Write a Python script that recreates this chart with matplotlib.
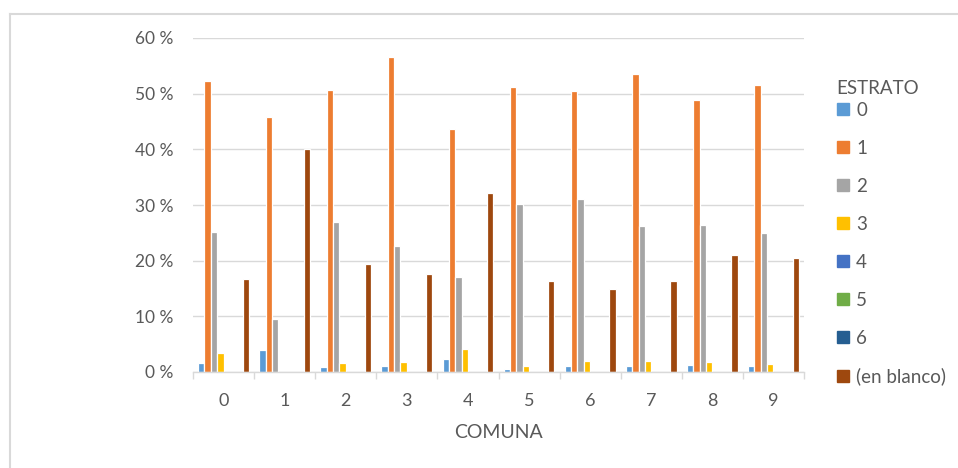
import numpy as np
import matplotlib
matplotlib.use("Agg")
import matplotlib.pyplot as plt
from matplotlib.lines import Line2D

comunas = ["0", "1", "2", "3", "4", "5", "6", "7", "8", "9"]
estratos = ["0", "1", "2", "3", "4", "5", "6", "(en blanco)"]

# porcentaje por comuna para cada estrato
e0 = [1.6, 3.9, 0.9, 1.0, 2.4, 0.6, 1.0, 1.0, 1.2, 1.0]
e1 = [52.3, 45.8, 50.7, 56.5, 43.7, 51.2, 50.5, 53.6, 48.9, 51.6]
e2 = [25.1, 9.6, 27.0, 22.7, 17.0, 30.2, 31.1, 26.2, 26.4, 24.9]
e3 = [3.5, 0.0, 1.6, 1.8, 4.1, 1.0, 2.0, 2.0, 1.8, 1.4]
e4 = [0, 0, 0, 0, 0, 0, 0, 0, 0, 0]
e5 = [0, 0, 0, 0, 0, 0, 0, 0, 0, 0]
e6 = [0, 0, 0, 0, 0, 0, 0, 0, 0, 0]
blanco = [16.7, 40.1, 19.4, 17.6, 32.1, 16.4, 14.9, 16.4, 21.0, 20.5]

series = [e0, e1, e2, e3, e4, e5, e6, blanco]
colors = ["#5B9BD5", "#ED7D31", "#A5A5A5", "#FFC000",
          "#4472C4", "#70AD47", "#255E91", "#9E480E"]

yticks = [0, 10, 20, 30, 40, 50, 60]
ytick_labels = ["0 %", "10 %", "20 %", "30 %", "40 %", "50 %", "60 %"]

TXT = "#595959"
GRID = "#D9D9D9"
plt.rcParams["font.family"] = ["Lato", "DejaVu Sans"]

fig = plt.figure(figsize=(9.58, 4.68), dpi=100)
ax = fig.add_axes([193 / 958, 1 - 372 / 468, (804 - 193) / 958, (372 - 38) / 468])

x = np.arange(len(comunas))
w = 0.104
handles = []
for k, (vals, c) in enumerate(zip(series, colors)):
    ax.bar(x + (k - 3.5) * w, vals, width=w, color=c, edgecolor="white",
           linewidth=0.9, zorder=3)
    handles.append(Line2D([], [], marker="s", linestyle="none", markersize=8,
                          markerfacecolor=c, markeredgecolor=c))

ax.set_xlim(-0.5, len(comunas) - 0.5)
ax.set_ylim(0, 60)
ax.set_yticks(yticks)
ax.set_yticklabels(ytick_labels)
ax.set_xticks(x)
ax.set_xticklabels(comunas)
ax.set_xticks(np.arange(len(comunas) + 1) - 0.5, minor=True)
ax.tick_params(axis="x", which="major", length=0, pad=15, labelsize=13, colors=TXT)
ax.tick_params(axis="x", which="minor", length=5, width=1, color=GRID)
ax.tick_params(axis="y", length=0, pad=14, labelsize=12.5, colors=TXT)
ax.grid(axis="y", color=GRID, linewidth=1, zorder=0)
for s in ["top", "right", "left"]:
    ax.spines[s].set_visible(False)
ax.spines["bottom"].set_color(GRID)
ax.spines["bottom"].set_linewidth(1)
ax.spines["bottom"].set_zorder(4)

ax.set_xlabel("COMUNA", fontsize=14, color=TXT, labelpad=11)

fig.text(836 / 958, 1 - 88 / 468, "ESTRATO", fontsize=13.5, color=TXT,
         ha="left", va="center")
leg = fig.legend(handles, estratos, loc="upper left",
                 bbox_to_anchor=(829 / 958, 1 - 94 / 468), frameon=False,
                 fontsize=13.5, labelspacing=1.12,
                 handlelength=0.7, handletextpad=0.35, borderaxespad=0)
for t in leg.get_texts():
    t.set_color(TXT)

# borde del grafico (solo izquierda y arriba visibles)
fig.add_artist(Line2D([9.5 / 958, 9.5 / 958], [0, 1 - 14 / 468],
                      transform=fig.transFigure, color=GRID, linewidth=1.5))
fig.add_artist(Line2D([9.5 / 958, 1], [1 - 14 / 468, 1 - 14 / 468],
                      transform=fig.transFigure, color=GRID, linewidth=1.5))

fig.savefig("out.png", dpi=100)
